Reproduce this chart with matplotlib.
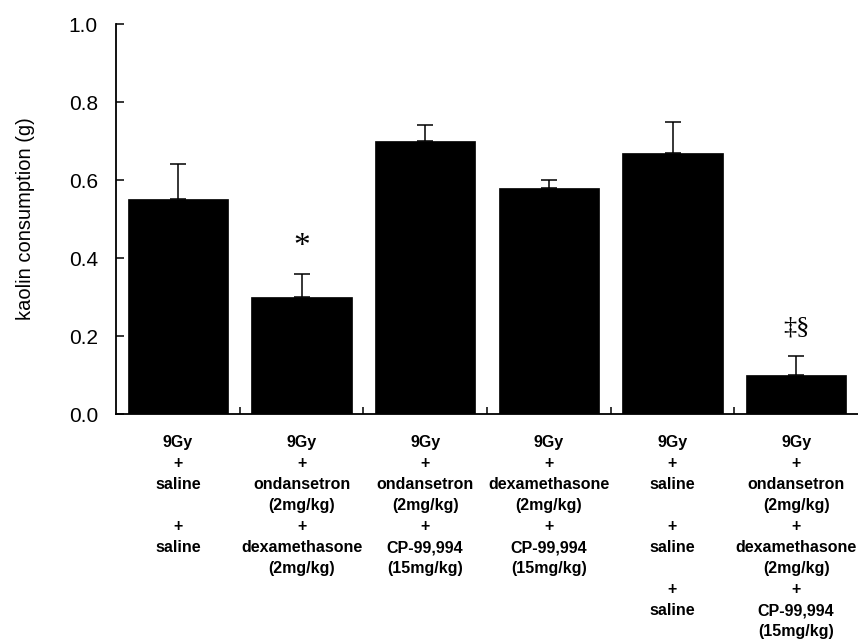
import matplotlib
matplotlib.use("Agg")
import matplotlib.pyplot as plt
import numpy as np

# Group labels (treatment combinations)
groups = [
    "9Gy\n+\nsaline\n\n+\nsaline",
    "9Gy\n+\nondansetron\n(2mg/kg)\n+\ndexamethasone\n(2mg/kg)",
    "9Gy\n+\nondansetron\n(2mg/kg)\n+\nCP-99,994\n(15mg/kg)",
    "9Gy\n+\ndexamethasone\n(2mg/kg)\n+\nCP-99,994\n(15mg/kg)",
    "9Gy\n+\nsaline\n\n+\nsaline\n\n+\nsaline",
    "9Gy\n+\nondansetron\n(2mg/kg)\n+\ndexamethasone\n(2mg/kg)\n+\nCP-99,994\n(15mg/kg)",
]
means = [0.55, 0.30, 0.70, 0.58, 0.67, 0.10]
sems = [0.09, 0.06, 0.04, 0.02, 0.08, 0.05]
marks = ["", "*", "", "", "", "\u2021\u00a7"]
mark_sizes = [0, 24, 0, 0, 0, 19]
mark_offsets = [0, 8, 0, 0, 0, 12]
yticks = [0.0, 0.2, 0.4, 0.6, 0.8, 1.0]

plt.rcParams["font.family"] = ["Liberation Sans", "DejaVu Sans"]

fig = plt.figure(figsize=(8.58, 6.41), dpi=100)
ax = fig.add_axes([116 / 858, 1 - 414 / 641, 742 / 858, 390 / 641])

x = np.arange(len(means))
ax.bar(x, means, width=0.81, color="black", edgecolor="black", linewidth=0.5)
ax.errorbar(x, means, yerr=[np.zeros(len(sems)), sems], fmt="none",
            ecolor="black", elinewidth=1.1, capsize=5.5, capthick=1.1)

for xi, m, s, t, fs, off in zip(x, means, sems, marks, mark_sizes, mark_offsets):
    if t:
        ax.annotate(t, (xi, m + s), xytext=(0, off), textcoords="offset points",
                    ha="center", va="bottom", fontsize=fs,
                    family=["Liberation Serif", "DejaVu Serif"])

ax.set_xlim(-0.5, 5.5)
ax.set_ylim(0, 1.0)
ax.set_yticks(yticks)
ax.set_yticklabels([f"{v:.1f}" for v in yticks], fontsize=15)
ax.tick_params(axis="y", direction="in", length=6, width=1.1, pad=13)

ax.set_xticks(x[:-1] + 0.5)
ax.set_xticklabels([])
ax.tick_params(axis="x", direction="in", length=5, width=1.1)

for xi, lab in zip(x, groups):
    ax.text(xi, -0.055, lab, transform=ax.get_xaxis_transform(),
            ha="center", va="top", fontsize=11.5, fontweight="bold",
            linespacing=1.5)

ax.set_ylabel("kaolin consumption (g)", fontsize=14.5, labelpad=24)

for side in ("top", "right"):
    ax.spines[side].set_visible(False)
for side in ("left", "bottom"):
    ax.spines[side].set_linewidth(1.3)

fig.savefig("out.png", dpi=100)
